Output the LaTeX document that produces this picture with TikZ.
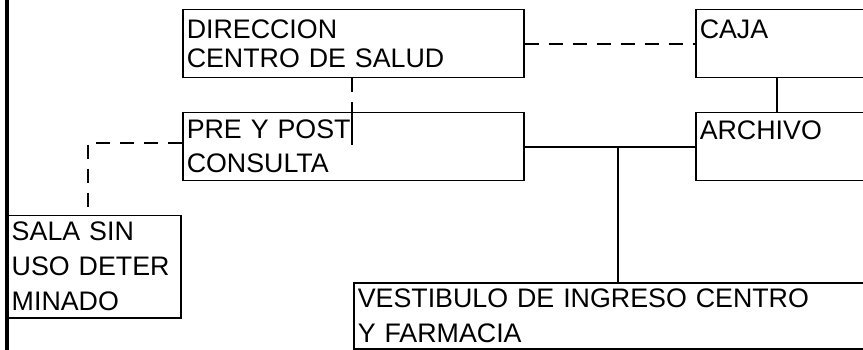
\documentclass[tikz,border=0pt]{standalone}
\usepackage{fontspec}
\setmainfont{Liberation Sans}
\usetikzlibrary{positioning,calc}

\begin{document}
\begin{tikzpicture}[
    x=1pt, y=-1pt,
    room/.style={
        draw=black,
        line width=1.5pt,
        anchor=north west,
        align=left,
        inner xsep=4pt,
        inner ysep=0pt,
        font=\fontsize{26.8}{34}\selectfont
    },
    tight/.style={font=\fontsize{26.8}{29}\selectfont},
    link/.style={line width=2.3pt},
    dlink/.style={line width=2.3pt, dash pattern=on 14pt off 10pt},
    wall/.style={line width=3.5pt}
]
\clip (0,0) rectangle (863,350);

\node[room, tight, text width=333pt, minimum height=68pt] (dir) at (182,9)
{DIRECCION\\CENTRO DE SALUD};

\node[room, text width=333pt, minimum height=68pt] (pre) at (182,112)
{PRE Y POST\\CONSULTA};

\node[room, tight, text width=242pt, minimum height=68pt] (caja) at (695,9)
{CAJA\\\mbox{}};

\node[room, text width=242pt, minimum height=68pt] (arch) at (695,112)
{ARCHIVO\\\mbox{}};

\node[room, font=\fontsize{26.8}{35}\selectfont, text width=165pt, minimum height=102pt] (sala) at (7,215)
{SALA SIN\\USO DETER\\MINADO};

\node[room, font=\fontsize{26.8}{35}\selectfont, text width=552pt, minimum height=66pt] (vest) at (353,282)
{VESTIBULO DE INGRESO CENTRO\\Y FARMACIA};

\draw[wall] (7,0) -- (7,350);

\draw[dlink] (dir.east) -- (caja.west);
\draw[link] ([xshift=82pt]caja.south west) -- ([xshift=82pt]arch.north west);
\draw[dlink] ([xshift=170pt]dir.south west) -- ([xshift=170pt]pre.north west);
\draw[link] ([xshift=170pt]pre.north west) -- ++(0,33);
\draw[link] (pre.east) -- (arch.west);
\coordinate (tee) at ($(pre.east)!0.55!(arch.west)$);
\draw[link] (tee) -- (tee |- vest.north);
\draw[dlink] ([yshift=4pt]pre.west) -| ([xshift=81pt]sala.north west);

\end{tikzpicture}
\end{document}
